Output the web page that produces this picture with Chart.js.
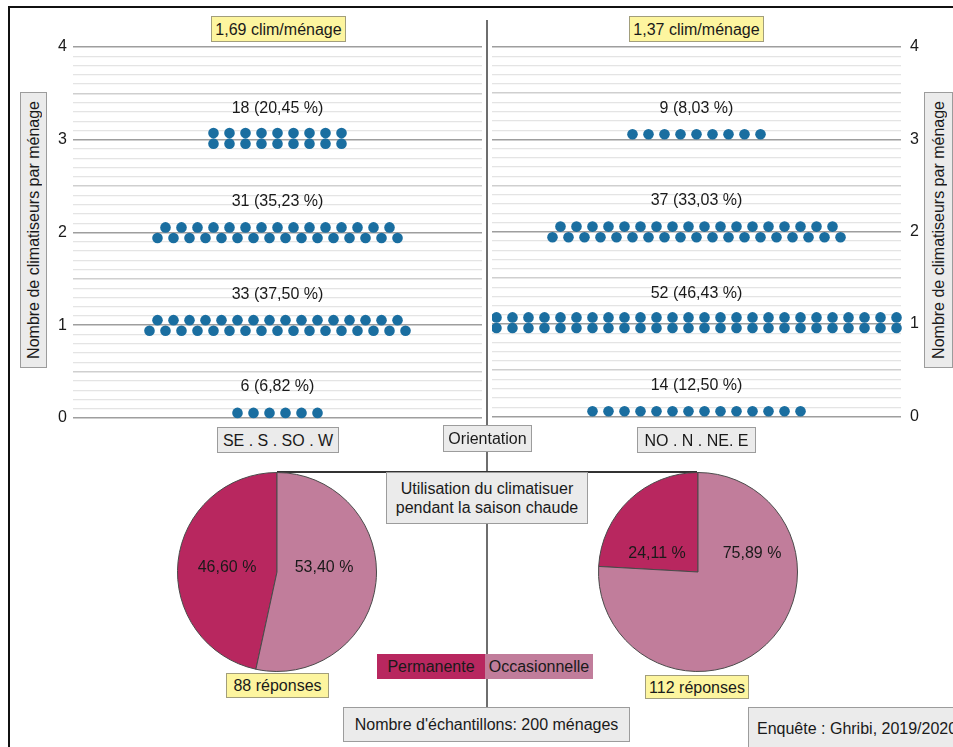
<!DOCTYPE html>
<html lang="fr">
<head>
<meta charset="utf-8">
<script src="https://cdn.jsdelivr.net/npm/chart.js@4.4.1/dist/chart.umd.min.js"></script>
<style>
  html, body { margin: 0; padding: 0; background: #fff; }
  body { width: 953px; height: 747px; position: relative; overflow: hidden; font-family: 'Liberation Sans', Arial, sans-serif; color: #1a1a1a; }
  canvas { position: absolute; }
  .line { position: absolute; }
  .box { position: absolute; display: flex; align-items: center; justify-content: center; box-sizing: border-box; font-size: 16px; line-height: 19px; text-align: center; white-space: nowrap; }
  .gray { background: #ebebeb; border: 1px solid #9c9c9c; }
  .yellow { background: #fdf59f; border: 1px solid #a29e7c; }
  .vt span { writing-mode: vertical-rl; transform: rotate(180deg); }
</style>
</head>
<body>

<!-- frame + connectors -->
<div class="line" style="left:9px; top:6px; right:0; height:2px; background:#111;"></div>
<div class="line" style="left:8px; top:6px; bottom:0; width:2px; background:#111;"></div>
<div class="line" style="left:486px; top:20px; width:2px; height:688px; background:#6e6e6e;"></div>
<div class="line" style="left:277px; top:471px; width:420px; height:1.5px; background:#333;"></div>

<canvas id="dotsLeft" width="462" height="415" style="left:20px; top:20px;"></canvas>
<canvas id="dotsRight" width="439" height="415" style="left:492px; top:20px;"></canvas>
<canvas id="pieLeft" width="200" height="200" style="left:177px; top:472px;"></canvas>
<canvas id="pieRight" width="200" height="200" style="left:598px; top:472px;"></canvas>

<div class="box yellow" id="meanLeft" style="left:211px; top:16px; width:135px; height:26px;"></div>
<div class="box yellow" id="meanRight" style="left:629px; top:16px; width:135px; height:26px;"></div>

<div class="box gray vt" style="left:20px; top:92px; width:27px; height:276px;"><span>Nombre de climatiseurs par ménage</span></div>
<div class="box gray vt" style="left:924px; top:92px; width:29px; height:276px;"><span>Nombre de climatiseurs par ménage</span></div>

<div class="box gray" id="catLeft" style="left:217px; top:427px; width:122px; height:26px;"></div>
<div class="box gray" id="catRight" style="left:637px; top:427px; width:119px; height:26px;"></div>
<div class="box gray" style="left:443px; top:425px; width:89px; height:27px;">Orientation</div>

<div class="box gray" style="left:386px; top:472px; width:202px; height:52px;">Utilisation du climatisuer<br>pendant la saison chaude</div>

<div class="box yellow" id="respLeft" style="left:226px; top:673px; width:103px; height:25px;"></div>
<div class="box yellow" id="respRight" style="left:645px; top:675px; width:104px; height:24px;"></div>

<div class="box" id="legPerm" style="left:377px; top:654px; width:108px; height:25px;"></div>
<div class="box" id="legOcc" style="left:485px; top:654px; width:108px; height:25px;"></div>

<div class="box gray" id="sample" style="left:343px; top:707px; width:287px; height:35px;"></div>
<div class="box gray" style="left:748px; top:707px; width:220px; height:42px; justify-content:flex-start; padding-left:8px;">Enquête : Ghribi, 2019/2020</div>

<script>
// --- Data ---
const levels = [0, 1, 2, 3];
const tickLabels = ['0', '1', '2', '3', '4'];
const categories = ['SE . S . SO . W', 'NO . N . NE. E'];
const leftCounts = [6, 33, 31, 18];
const leftPct = ['6,82', '37,50', '35,23', '20,45'];
const rightCounts = [14, 52, 37, 9];
const rightPct = ['12,50', '46,43', '33,03', '8,03'];
const meanLabels = ['1,69', '1,37'];
const usageLabels = ['Permanente', 'Occasionnelle'];
const leftUsage = [46.60, 53.40];
const rightUsage = [24.11, 75.89];
const responses = [88, 112];
const sampleTotal = 200;

// --- Style ---
const FONT = "'Liberation Sans', Arial, sans-serif";
const TEXT = '#1a1a1a';
const DOT = '#1a6ea0';
const PIE_COLORS = ['#b8275f', '#c17d9b'];
// how each level's dots are arranged (single row / two aligned rows / two offset rows)
const leftRows = ['single', 'stagger', 'stagger', 'stack'];
const rightRows = ['single', 'stack', 'stagger', 'single'];
const OFF = { single: 0.055, stackTop: 0.072, stackBot: 0.042, stagTop: 0.055, stagBot: 0.06 };
// pixel offsets of the pie percentage labels from the pie centre
const leftPieText = [[-50, -4], [47, -4]];
const rightPieText = [[-41, -18], [54, -18]];

function dotPoints(counts, rows) {
    const pts = [];
    const row = (k, y) => { for (let j = 0; j < k; j++) pts.push({ x: j - (k - 1) / 2, y }); };
    counts.forEach((n, i) => {
        const v = levels[i];
        if (rows[i] === 'single') row(n, v + OFF.single);
        else if (rows[i] === 'stack') { row(n / 2, v + OFF.stackTop); row(n / 2, v - OFF.stackBot); }
        else { row(Math.floor(n / 2), v + OFF.stagTop); row(Math.ceil(n / 2), v - OFF.stagBot); }
    });
    return pts;
}

const rowLabels = {
    id: 'rowLabels',
    afterDatasetsDraw(chart, args, opts) {
        const { ctx, chartArea, scales: { y } } = chart;
        const cx = (chartArea.left + chartArea.right) / 2;
        ctx.save();
        ctx.font = `16px ${FONT}`;
        ctx.fillStyle = TEXT;
        ctx.textAlign = 'center';
        ctx.textBaseline = 'middle';
        opts.counts.forEach((n, i) => ctx.fillText(`${n} (${opts.pct[i]} %)`, cx, y.getPixelForValue(levels[i] + 0.335)));
        ctx.restore();
    }
};

function gridColor(c) {
    const v = c.tick.value;
    if (Math.abs(v - Math.round(v)) < 1e-6) return '#9e9e9e';
    if (Math.abs(v * 2 - Math.round(v * 2)) < 1e-6) return '#cfcfcf';
    return '#e4e4e4';
}
function gridWidth(c) {
    const v = c.tick.value;
    if (Math.abs(v * 2 - Math.round(v * 2)) < 1e-6) return 1.6;
    return 1.2;
}

function makeDots(id, counts, pct, rows, side) {
    new Chart(document.getElementById(id), {
        type: 'scatter',
        data: { datasets: [{ data: dotPoints(counts, rows), pointRadius: 5.3, pointBackgroundColor: DOT, pointBorderWidth: 0, clip: false }] },
        options: {
            responsive: false, animation: false, events: [],
            layout: { autoPadding: false, padding: { top: 27, bottom: 17, left: 0, right: 0 } },
            plugins: { legend: { display: false }, tooltip: { enabled: false }, rowLabels: { counts, pct } },
            scales: {
                x: { display: false, min: -12.78, max: 12.78 },
                y: {
                    position: side, min: 0, max: 4,
                    afterFit: s => { s.width = side === 'left' ? 53 : 30; },
                    border: { display: false },
                    grid: { drawTicks: false, color: gridColor, lineWidth: gridWidth },
                    ticks: {
                        stepSize: 0.1, autoSkip: false, padding: side === 'left' ? 6 : 9, color: TEXT,
                        font: { size: 16, family: FONT },
                        callback: v => Math.abs(v - Math.round(v)) < 1e-6 ? tickLabels[Math.round(v)] : ''
                    }
                }
            }
        },
        plugins: [rowLabels]
    });
}

const pieLabels = {
    id: 'pieLabels',
    afterDatasetsDraw(chart, args, opts) {
        const { ctx } = chart;
        const arc = chart.getDatasetMeta(0).data[0];
        const vals = chart.data.datasets[0].data;
        ctx.save();
        ctx.font = `16px ${FONT}`;
        ctx.fillStyle = TEXT;
        ctx.textAlign = 'center';
        ctx.textBaseline = 'middle';
        vals.forEach((v, i) => ctx.fillText(v.toFixed(2).replace('.', ',') + ' %', arc.x + opts.offsets[i][0], arc.y + opts.offsets[i][1]));
        ctx.restore();
    }
};

function makePie(id, values, offsets) {
    new Chart(document.getElementById(id), {
        type: 'pie',
        data: { labels: usageLabels, datasets: [{ data: values, backgroundColor: PIE_COLORS, borderColor: '#4a4a4a', borderWidth: 1 }] },
        options: {
            responsive: false, animation: false, events: [],
            rotation: -values[0] * 3.6,
            plugins: { legend: { display: false }, tooltip: { enabled: false }, pieLabels: { offsets } }
        },
        plugins: [pieLabels]
    });
}

makeDots('dotsLeft', leftCounts, leftPct, leftRows, 'left');
makeDots('dotsRight', rightCounts, rightPct, rightRows, 'right');
makePie('pieLeft', leftUsage, leftPieText);
makePie('pieRight', rightUsage, rightPieText);

document.getElementById('meanLeft').textContent = `${meanLabels[0]} clim/ménage`;
document.getElementById('meanRight').textContent = `${meanLabels[1]} clim/ménage`;
document.getElementById('catLeft').textContent = categories[0];
document.getElementById('catRight').textContent = categories[1];
document.getElementById('respLeft').textContent = `${responses[0]} réponses`;
document.getElementById('respRight').textContent = `${responses[1]} réponses`;
document.getElementById('sample').textContent = `Nombre d'échantillons: ${sampleTotal} ménages`;
const legPerm = document.getElementById('legPerm');
legPerm.textContent = usageLabels[0];
legPerm.style.background = PIE_COLORS[0];
const legOcc = document.getElementById('legOcc');
legOcc.textContent = usageLabels[1];
legOcc.style.background = PIE_COLORS[1];
</script>
</body>
</html>
